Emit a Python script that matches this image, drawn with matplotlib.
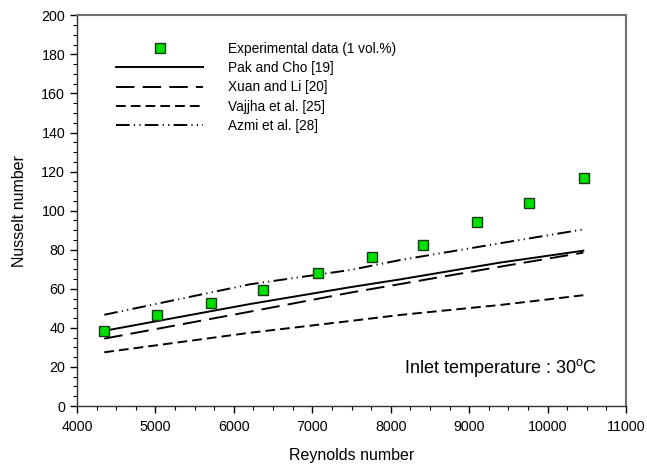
import matplotlib
matplotlib.use("Agg")
import matplotlib.pyplot as plt
from matplotlib.ticker import MultipleLocator

plt.rcParams['font.family'] = ['Liberation Sans', 'DejaVu Sans']

# Experimental data
re_exp = [4348, 5024, 5705, 6376, 7077, 7757, 8415, 9104, 9759, 10465]
nu_exp = [38.5, 46.4, 52.9, 59.4, 67.9, 76.1, 82.4, 94.3, 103.8, 116.6]

# Correlation curves (read at several Reynolds numbers)
re_corr = [4348, 6206, 7481, 8118, 9393, 10456]
nu_pak = [38.5, 52.2, 60.8, 64.8, 73.4, 79.5]
nu_xuan = [34.5, 48.3, 58.0, 62.4, 71.3, 78.5]
nu_vajjha = [27.5, 37.5, 43.5, 46.6, 51.7, 56.7]
nu_azmi = [46.7, 62.3, 69.6, 74.7, 83.3, 90.4]

labels = ["Experimental data (1 vol.%)", "Pak and Cho [19]", "Xuan and Li [20]",
          "Vajjha et al. [25]", "Azmi et al. [28]"]

fig = plt.figure(figsize=(6.47, 4.73), dpi=100)
ax = fig.add_axes([77/647, 1-406/473, (626-77)/647, (406-15.3)/473])

lw = 1.4
ax.plot(re_exp, nu_exp, linestyle='none', marker='s', markersize=6.5,
        markerfacecolor='#00e000', markeredgecolor='#1a3a1a', markeredgewidth=1.0,
        label=labels[0], zorder=5)
ax.plot(re_corr, nu_pak, color='black', lw=lw, label=labels[1])
ax.plot(re_corr, nu_xuan, color='black', lw=lw, dashes=(9.5, 4.2), label=labels[2])
ax.plot(re_corr, nu_vajjha, color='black', lw=lw, dashes=(5, 2.6), label=labels[3])
ax.plot(re_corr, nu_azmi, color='black', lw=lw, dashes=(7, 2.2, 0.6, 2.2, 0.6, 2.2), label=labels[4])

ax.set_xlim(4000, 11000)
ax.set_ylim(0, 200)
ax.xaxis.set_major_locator(MultipleLocator(1000))
ax.xaxis.set_minor_locator(MultipleLocator(250))
ax.yaxis.set_major_locator(MultipleLocator(20))
ax.yaxis.set_minor_locator(MultipleLocator(5))
ax.tick_params(which='major', direction='out', length=5, width=1, labelsize=10.3, colors='black')
ax.tick_params(which='minor', direction='out', length=3, width=0.8)
ax.tick_params(axis='x', pad=5)

for s in ['left', 'bottom']:
    ax.spines[s].set_color('#303030')
    ax.spines[s].set_linewidth(1.0)
for s in ['top', 'right']:
    ax.spines[s].set_color('#707070')
    ax.spines[s].set_linewidth(1.5)

ax.set_xlabel('Reynolds number', fontsize=11.5, labelpad=10)
ax.set_ylabel('Nusselt number', fontsize=11.5, labelpad=10)

ax.text(10630, 19.5, r'Inlet temperature : 30$^\mathregular{o}$C', ha='right', va='center', fontsize=13)

leg = ax.legend(loc='upper left', bbox_to_anchor=(116/647, 1-42/473), bbox_transform=fig.transFigure,
                frameon=False, fontsize=9.8, handlelength=6.4, handletextpad=1.85,
                labelspacing=0.38, borderpad=0, borderaxespad=0, numpoints=1)

fig.savefig('out.png', dpi=100)
